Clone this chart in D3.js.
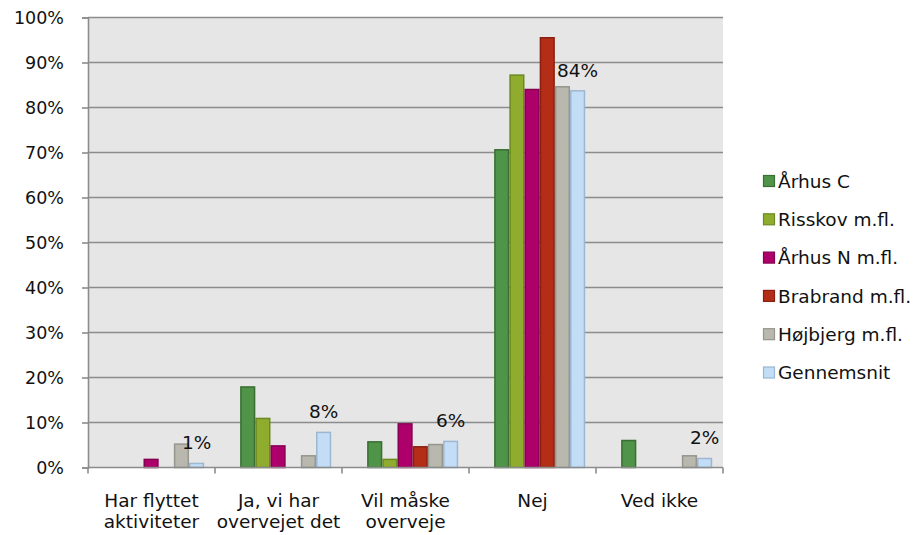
<!DOCTYPE html>
<html>
<head>
<meta charset="utf-8">
<script src="https://cdn.jsdelivr.net/npm/d3@7"></script>
<style>
  body { margin: 0; background: #fff; }
  svg { font-family: "DejaVu Sans", Verdana, sans-serif; }
</style>
</head>
<body>
<svg id="chart" width="915" height="535"></svg>
<script>
// categories (x axis), each label split in lines
const categories = ["Har flyttet aktiviteter", "Ja, vi har overvejet det", "Vil måske overveje", "Nej", "Ved ikke"];
const categoryLines = [["Har flyttet", "aktiviteter"], ["Ja, vi har", "overvejet det"], ["Vil måske", "overveje"], ["Nej"], ["Ved ikke"]];
const series = ["Århus C", "Risskov m.fl.", "Århus N m.fl.", "Brabrand m.fl.", "Højbjerg m.fl.", "Gennemsnit"];

// values per series, in category order (share of respondents)
const aarhusC   = [0.000, 0.179, 0.057, 0.706, 0.060];
const risskov   = [0.000, 0.109, 0.018, 0.872, 0.000];
const aarhusN   = [0.018, 0.048, 0.097, 0.840, 0.000];
const brabrand  = [0.000, 0.000, 0.046, 0.955, 0.000];
const hoejbjerg = [0.052, 0.026, 0.051, 0.846, 0.026];
const gennemsnit = [0.009, 0.078, 0.058, 0.837, 0.020];
const seriesValues = [aarhusC, risskov, aarhusN, brabrand, hoejbjerg, gennemsnit];

const fills   = ["#4f9448", "#8fac2f", "#ae006b", "#b32d17", "#b9b8ae", "#c2ddf5"];
const strokes = ["#3a6e33", "#6d8a22", "#860052", "#8c2010", "#97968d", "#9cb7d1"];

const yTicks = d3.range(0, 1.01, 0.1);

const svg = d3.select("#chart");
const plotL = 88, plotR = 723, plotT = 17.5, plotB = 467.5;

const x0 = d3.scaleBand().domain(categories).range([plotL, plotR]);
const x1 = d3.scaleBand().domain(series)
  .range([x0.bandwidth() * 0.198, x0.bandwidth() * 0.915]);
const y = d3.scaleLinear().domain([0, 1]).range([plotB, plotT]);

// plot background
svg.append("rect")
  .attr("x", plotL).attr("y", plotT)
  .attr("width", plotR - plotL).attr("height", plotB - plotT)
  .attr("fill", "#e6e6e6");

// gridlines
svg.append("g")
  .selectAll("line")
  .data(yTicks.slice(1))
  .join("line")
  .attr("x1", plotL).attr("x2", plotR)
  .attr("y1", d => y(d)).attr("y2", d => y(d))
  .attr("stroke", "#8c8c8c").attr("stroke-width", 1.6);

// y axis
const yAxis = d3.axisLeft(y).tickValues(yTicks).tickFormat(d3.format(".0%")).tickSize(6).tickPadding(18);
const gy = svg.append("g").attr("transform", `translate(${plotL},0)`).call(yAxis);
gy.select(".domain").attr("stroke", "#8c8c8c").attr("stroke-width", 1.6);
gy.selectAll(".tick line").attr("stroke", "#8c8c8c").attr("stroke-width", 1.6);
gy.selectAll("text").attr("font-size", 17.5).attr("fill", "#111")
  .attr("font-family", "DejaVu Sans, Verdana, sans-serif");

// bars
const groups = svg.append("g")
  .selectAll("g")
  .data(categories)
  .join("g")
  .attr("transform", d => `translate(${x0(d)},0)`);

groups.selectAll("rect")
  .data((c, ci) => series.map((s, si) => ({ s, si, v: seriesValues[si][ci] })).filter(d => d.v > 0))
  .join("rect")
  .attr("x", d => x1(d.s) + 0.75)
  .attr("width", x1.bandwidth() - 1.5)
  .attr("y", d => y(d.v))
  .attr("height", d => y(0) - y(d.v))
  .attr("fill", d => fills[d.si])
  .attr("stroke", d => strokes[d.si])
  .attr("stroke-width", 1.5);

// x axis line and ticks
svg.append("line")
  .attr("x1", plotL).attr("x2", plotR)
  .attr("y1", plotB).attr("y2", plotB)
  .attr("stroke", "#8c8c8c").attr("stroke-width", 1.6);
svg.append("g")
  .selectAll("line")
  .data(categories.map(c => x0(c)).concat([plotR]))
  .join("line")
  .attr("x1", d => d).attr("x2", d => d)
  .attr("y1", plotB).attr("y2", plotB + 6)
  .attr("stroke", "#8c8c8c").attr("stroke-width", 1.6);

// category labels
svg.append("g")
  .selectAll("text")
  .data(categories)
  .join("text")
  .attr("x", d => x0(d) + x0.bandwidth() / 2)
  .attr("y", 507)
  .attr("text-anchor", "middle")
  .attr("font-size", 18.5)
  .attr("fill", "#111")
  .selectAll("tspan")
  .data((d, i) => categoryLines[i])
  .join("tspan")
  .attr("x", function() { return this.parentNode.getAttribute("x"); })
  .attr("dy", (d, i) => i === 0 ? 0 : 21)
  .text(d => d);

// data labels on average
svg.append("g")
  .selectAll("text")
  .data(categories)
  .join("text")
  .attr("x", (c) => x0(c) + x1("Gennemsnit") + x1.bandwidth() / 2)
  .attr("y", (c, i) => y(gennemsnit[i]) - 21)
  .attr("dy", "0.36em")
  .attr("text-anchor", "middle")
  .attr("font-size", 18.5)
  .attr("fill", "#111")
  .text((c, i) => d3.format(".0%")(gennemsnit[i]));

// legend
const legend = svg.append("g")
  .selectAll("g")
  .data(series)
  .join("g")
  .attr("transform", (d, i) => `translate(763,${181 + i * 38.3})`);
legend.append("rect")
  .attr("x", 0.5).attr("y", -5.5)
  .attr("width", 11).attr("height", 11)
  .attr("fill", (d, i) => fills[i])
  .attr("stroke", (d, i) => strokes[i])
  .attr("stroke-width", 1.2);
legend.append("text")
  .attr("x", 15).attr("y", 0)
  .attr("dy", "0.36em")
  .attr("font-size", 18.5)
  .attr("fill", "#111")
  .text(d => d);
</script>
</body>
</html>
